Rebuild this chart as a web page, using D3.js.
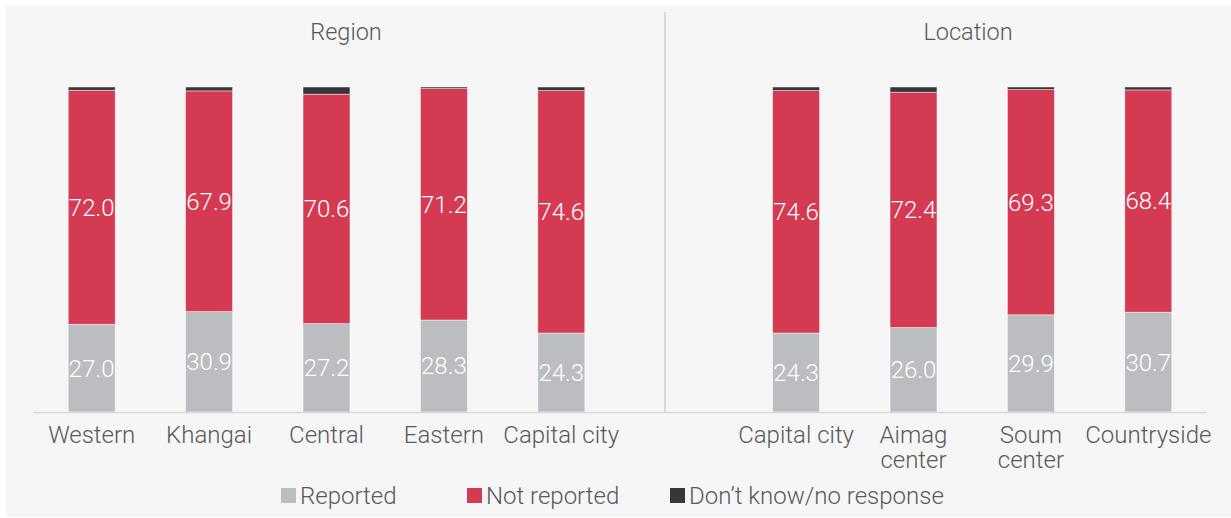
<!DOCTYPE html>
<html>
<head>
<meta charset="utf-8">
<script src="https://cdn.jsdelivr.net/npm/d3@7"></script>
<style>
  body { margin: 0; background: #ffffff; }
  text { font-family: Roboto, "Open Sans", sans-serif; font-weight: 300; }
</style>
</head>
<body>
<script>
// categories (blank slot separates the two groups)
let categories = ["Western", "Khangai", "Central", "Eastern", "Capital city", "", "Capital city ", "Aimag center", "Soum center", "Countryside"];
let reported    = [27.0, 30.9, 27.2, 28.3, 24.3, null, 24.3, 26.0, 29.9, 30.7];
let notReported = [72.0, 67.9, 70.6, 71.2, 74.6, null, 74.6, 72.4, 69.3, 68.4];
let dontKnow    = [1.0, 1.2, 2.2, 0.5, 1.1, null, 1.1, 1.6, 0.8, 0.9];
let seriesNames = ["Reported", "Not reported", "Don\u2019t know/no response"];
let colors = ["#bcbdc1", "#d43b53", "#373737"];
let groupTitles = ["Region", "Location"];

let w = 1231;
let h = 518;

let svg = d3.select("body")
  .append("svg")
  .attr("width", w)
  .attr("height", h);

// panel
svg.append("rect")
  .attr("x", 6).attr("y", 5)
  .attr("width", w - 6).attr("height", h - 6)
  .attr("fill", "#f6f6f6");

let x = d3.scaleBand()
  .domain(d3.range(categories.length))
  .range([33, 1207])
  .paddingInner(0.6)
  .paddingOuter(0.3);

let y = d3.scaleLinear()
  .domain([0, 100])
  .range([412, 87]);

// stack data
let rows = categories.map(function(c, i) {
  return { i: i, cat: c, a: reported[i], b: notReported[i], c: dontKnow[i] };
}).filter(function(d) { return d.a != null; });

let stack = d3.stack().keys(["a", "b", "c"]);
let layers = stack(rows);

// divider
svg.append("line")
  .attr("x1", 665).attr("x2", 665)
  .attr("y1", 12).attr("y2", 412)
  .attr("stroke", "#d9d9d9")
  .attr("stroke-width", 2);

let layerG = svg.selectAll("g.layer")
  .data(layers)
  .enter()
  .append("g")
  .attr("class", "layer")
  .attr("fill", function(d, i) { return colors[i]; });

layerG.selectAll("rect")
  .data(function(d) { return d; })
  .enter()
  .append("rect")
  .attr("x", function(d) { return x(d.data.i); })
  .attr("width", x.bandwidth())
  .attr("y", function(d) { return y(d[1]); })
  .attr("height", function(d) { return y(d[0]) - y(d[1]); })
  .attr("stroke", "#ffffff")
  .attr("stroke-opacity", 0.6)
  .attr("stroke-width", 0.75);

// value labels for first two series
layerG.filter(function(d, i) { return i < 2; })
  .selectAll("text")
  .data(function(d) { return d; })
  .enter()
  .append("text")
  .attr("x", function(d) { return x(d.data.i) + x.bandwidth() / 2; })
  .attr("y", function(d) { return (y(d[0]) + y(d[1])) / 2; })
  .attr("dy", "0.35em")
  .attr("text-anchor", "middle")
  .attr("fill", "#ffffff")
  .attr("font-size", 24)
  .text(function(d) { return (d[1] - d[0]).toFixed(1); });

// baseline
svg.append("line")
  .attr("x1", 33).attr("x2", 1207)
  .attr("y1", 412.5).attr("y2", 412.5)
  .attr("stroke", "#d9d9d9")
  .attr("stroke-width", 1.5);

// category labels (wrapped)
let wrapped = {
  "Aimag center": ["Aimag", "center"],
  "Soum center": ["Soum", "center"]
};
let catLabels = svg.selectAll("text.cat")
  .data(rows)
  .enter()
  .append("text")
  .attr("class", "cat")
  .attr("text-anchor", "middle")
  .attr("fill", "#595959")
  .attr("font-size", 24)
  .attr("x", function(d) { return x(d.i) + x.bandwidth() / 2; })
  .attr("y", 443);

catLabels.each(function(d) {
  let lines = wrapped[d.cat] || [d.cat.trim()];
  let t = d3.select(this);
  lines.forEach(function(l, k) {
    t.append("tspan")
      .attr("x", x(d.i) + x.bandwidth() / 2)
      .attr("dy", k == 0 ? 0 : 25)
      .text(l);
  });
});

// group titles
svg.selectAll("text.grp")
  .data(groupTitles)
  .enter()
  .append("text")
  .attr("class", "grp")
  .attr("text-anchor", "middle")
  .attr("fill", "#595959")
  .attr("font-size", 23.5)
  .attr("x", function(d, i) { return i == 0 ? 346 : 968; })
  .attr("y", 40)
  .text(function(d) { return d; });

// legend
let legendX = [281, 467, 670];
let legend = svg.selectAll("g.legend")
  .data(seriesNames)
  .enter()
  .append("g")
  .attr("class", "legend")
  .attr("transform", function(d, i) { return "translate(" + legendX[i] + ",488)"; });

legend.append("rect")
  .attr("width", 15).attr("height", 15)
  .attr("fill", function(d, i) { return colors[i]; });

legend.append("text")
  .attr("x", 19)
  .attr("y", 8)
  .attr("dy", "0.35em")
  .attr("fill", "#595959")
  .attr("font-size", 24)
  .text(function(d) { return d; });
</script>
</body>
</html>
